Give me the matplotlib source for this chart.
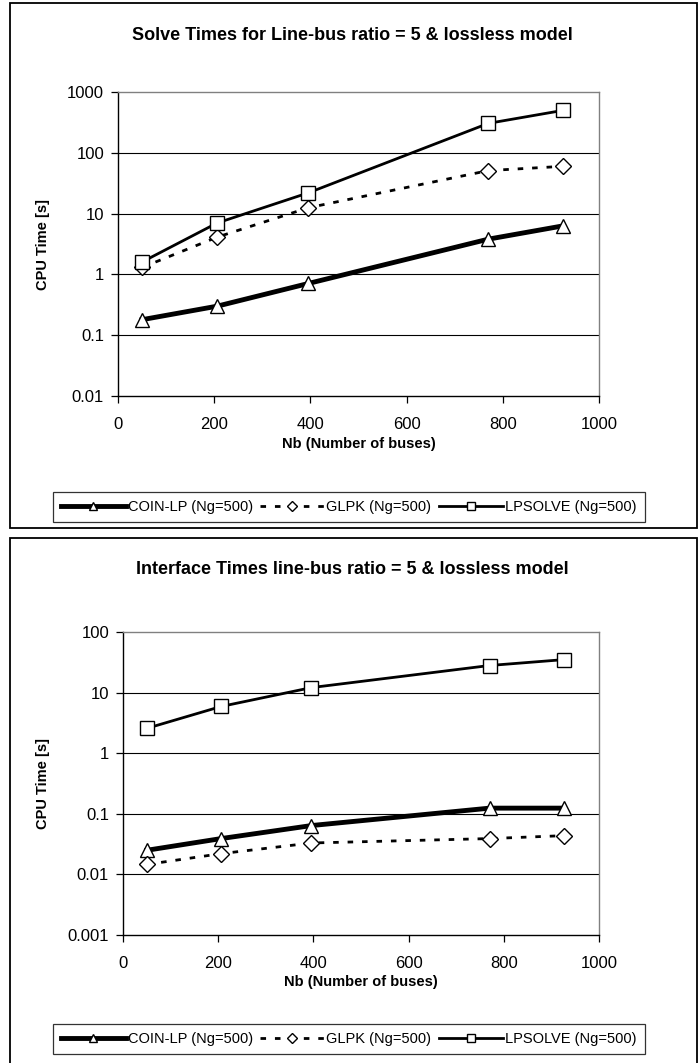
import matplotlib
matplotlib.use("Agg")
import matplotlib.pyplot as plt
from matplotlib.patches import Rectangle
from matplotlib.ticker import FixedLocator, FixedFormatter, NullLocator

plt.rcParams['font.family'] = ['Liberation Sans', 'DejaVu Sans']

# ---- data ----
nb = [50, 206, 396, 770, 926]
solve_coin = [0.18, 0.30, 0.71, 3.8, 6.3]
solve_glpk = [1.3, 4.1, 12.5, 51, 60]
solve_lpsolve = [1.6, 7.0, 22, 305, 500]

iface_coin = [0.025, 0.039, 0.064, 0.124, 0.124]
iface_glpk = [0.0146, 0.022, 0.033, 0.039, 0.0436]
iface_lpsolve = [2.57, 5.9, 12.1, 28, 35]

series_names = ["COIN-LP (Ng=500)", "GLPK (Ng=500)", "LPSOLVE (Ng=500)"]
x_ticks = [0, 200, 400, 600, 800, 1000]
solve_yticks = [0.01, 0.1, 1, 10, 100, 1000]
solve_ylabels = ["0.01", "0.1", "1", "10", "100", "1000"]
iface_yticks = [0.001, 0.01, 0.1, 1, 10, 100]
iface_ylabels = ["0.001", "0.01", "0.1", "1", "10", "100"]

titles = ["Solve Times for Line-bus ratio = 5 & lossless model",
          "Interface Times line-bus ratio = 5 & lossless model"]
xlabel = "Nb (Number of buses)"
ylabel = "CPU Time [s]"

W, H = 699, 1063
fig = plt.figure(figsize=(W / 100, H / 100), dpi=100)


def fx(px):
    return px / W


def fy(py):
    return 1 - py / H


def box(x0, y0, x1, y1, lw=1.3, color='black'):
    fig.patches.append(Rectangle((fx(x0), fy(y1)), fx(x1) - fx(x0), fy(y0) - fy(y1),
                                 transform=fig.transFigure, fill=False,
                                 edgecolor=color, linewidth=lw))


def make_chart(frame, axrect, title_y, xlabel_y, ylabel_x, legend_y,
               coin, glpk, lps, yticks, ylabels, title):
    box(*frame)
    l, t, r, b = axrect
    ax = fig.add_axes([fx(l), fy(b), fx(r) - fx(l), fy(t) - fy(b)])
    ax.set_yscale('log')
    ax.set_xlim(0, 1000)
    ax.set_ylim(yticks[0], yticks[-1])
    for v in yticks[1:-1]:
        ax.axhline(v, color='black', lw=0.8, zorder=1)
    l1, = ax.plot(nb, coin, color='black', lw=3.5, marker='^', markersize=10,
                  markerfacecolor='white', markeredgecolor='black', markeredgewidth=1.0,
                  zorder=3)
    l2, = ax.plot(nb, glpk, color='black', lw=2.0, linestyle=(0, (2, 3.2)), marker='D',
                  markersize=8, markerfacecolor='white', markeredgecolor='black',
                  markeredgewidth=1.0, zorder=3)
    l3, = ax.plot(nb, lps, color='black', lw=2.0, marker='s', markersize=10,
                  markerfacecolor='white', markeredgecolor='black', markeredgewidth=1.0,
                  zorder=4)
    ax.xaxis.set_major_locator(FixedLocator(x_ticks))
    ax.set_xticklabels([str(v) for v in x_ticks])
    ax.yaxis.set_major_locator(FixedLocator(yticks))
    ax.yaxis.set_major_formatter(FixedFormatter(ylabels))
    ax.yaxis.set_minor_locator(NullLocator())
    ax.tick_params(axis='both', direction='out', length=5, width=0.9, labelsize=12,
                   colors='black', pad=5)
    ax.tick_params(axis='x', pad=10)
    for s in ['top', 'right']:
        ax.spines[s].set_color('#808080')
        ax.spines[s].set_linewidth(1.0)
    for s in ['left', 'bottom']:
        ax.spines[s].set_color('black')
        ax.spines[s].set_linewidth(1.0)
    fig.text(fx(352), fy(title_y), title, ha='center', va='center', fontsize=13,
             fontweight='bold')
    fig.text(fx((l + r) / 2), fy(xlabel_y), xlabel, ha='center', va='center',
             fontsize=10.5, fontweight='bold')
    fig.text(fx(ylabel_x), fy((t + b) / 2), ylabel, ha='center', va='center',
             fontsize=10.5, fontweight='bold', rotation=90)
    leg = fig.legend([l1, l2, l3], series_names, loc='center',
                     bbox_to_anchor=(fx(349), fy(legend_y)), ncol=3, fontsize=10.5,
                     frameon=True, fancybox=False, edgecolor='black',
                     handlelength=4.4, handletextpad=0.15, columnspacing=0.5,
                     borderpad=0.55, markerscale=0.6)
    leg.get_frame().set_linewidth(0.9)
    return ax


make_chart((10, 3, 697, 528), (118, 92, 599, 396), 35, 444, 43, 507,
           solve_coin, solve_glpk, solve_lpsolve, solve_yticks, solve_ylabels, titles[0])
make_chart((10, 538, 697, 1070), (123, 632, 599, 935), 569, 982, 43, 1039,
           iface_coin, iface_glpk, iface_lpsolve, iface_yticks, iface_ylabels, titles[1])

fig.savefig("out.png", dpi=100, facecolor='white')
